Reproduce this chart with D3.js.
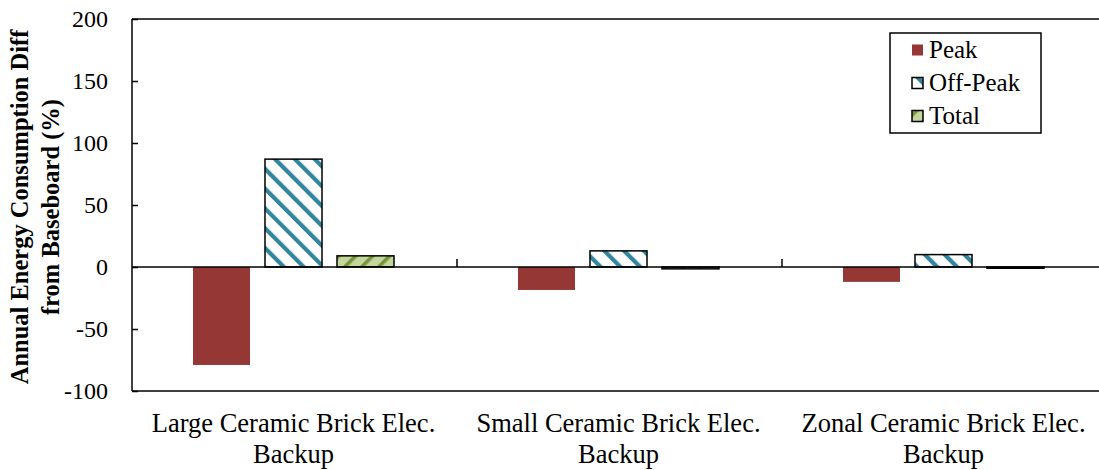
<!DOCTYPE html>
<html>
<head>
<meta charset="utf-8">
<script src="https://cdn.jsdelivr.net/npm/d3@7"></script>
<style>
  html, body { margin: 0; padding: 0; background: #fff; }
  svg { display: block; }
  text { font-family: "Liberation Serif", "Times New Roman", serif; fill: #000; }
</style>
</head>
<body>
<svg id="chart" width="1099" height="470"></svg>
<script>
// Heating system variants compared against the baseboard baseline
const categories = [
  ["Large Ceramic Brick Elec.", "Backup"],
  ["Small Ceramic Brick Elec.", "Backup"],
  ["Zonal Ceramic Brick Elec.", "Backup"]
];
const seriesNames = ["Peak", "Off-Peak", "Total"];
const peakValues = [-79, -18.5, -12];
const offPeakValues = [87, 13, 10];
const totalValues = [9, -1.5, -1];
const yTicks = [-100, -50, 0, 50, 100, 150, 200];

const series = [
  { name: seriesNames[0], values: peakValues, fill: "#953735", stroke: "none" },
  { name: seriesNames[1], values: offPeakValues, fill: "url(#hatchOff)", stroke: "#000" },
  { name: seriesNames[2], values: totalValues, fill: "url(#hatchTot)", stroke: "#000" }
];

const svg = d3.select("#chart");
const margin = { left: 132, top: 19, bottom: 79 };
const plotW = 975;
const plotH = 470 - margin.top - margin.bottom;

// Hatch fills
const defs = svg.append("defs");
const off = defs.append("pattern")
  .attr("id", "hatchOff").attr("patternUnits", "userSpaceOnUse")
  .attr("width", 14).attr("height", 14)
  .attr("patternTransform", "rotate(-45)");
off.append("rect").attr("width", 14).attr("height", 14).attr("fill", "#fff");
off.append("rect").attr("x", 0).attr("width", 4.2).attr("height", 14).attr("fill", "#31859C");

const tot = defs.append("pattern")
  .attr("id", "hatchTot").attr("patternUnits", "userSpaceOnUse")
  .attr("width", 12).attr("height", 12)
  .attr("patternTransform", "rotate(45)");
tot.append("rect").attr("width", 12).attr("height", 12).attr("fill", "#C3D69B");
tot.append("rect").attr("x", 0).attr("width", 3.5).attr("height", 12).attr("fill", "#77933C");

const g = svg.append("g").attr("transform", `translate(${margin.left},${margin.top})`);

const x0 = d3.scaleBand().domain(d3.range(categories.length)).range([0, plotW]);
const x1 = d3.scaleBand().domain(seriesNames).range([61, 262]).paddingInner(0.208);
const y = d3.scaleLinear().domain([-100, 200]).range([plotH, 0]);

// Frame: top and bottom edges
g.append("line").attr("x1", 0).attr("x2", plotW).attr("y1", 0).attr("y2", 0)
  .attr("stroke", "#000").attr("stroke-width", 1.5);
g.append("line").attr("x1", 0).attr("x2", plotW).attr("y1", plotH).attr("y2", plotH)
  .attr("stroke", "#000").attr("stroke-width", 1.5);

// Bars
series.forEach(s => {
  g.selectAll(null).data(s.values).enter().append("rect")
    .attr("x", (d, i) => x0(i) + x1(s.name))
    .attr("width", x1.bandwidth())
    .attr("y", d => y(Math.max(0, d)))
    .attr("height", d => Math.abs(y(d) - y(0)))
    .attr("fill", s.fill)
    .attr("stroke", s.stroke)
    .attr("stroke-width", 1.5);
});

// Zero line with category separators
g.append("line").attr("x1", 0).attr("x2", plotW).attr("y1", y(0)).attr("y2", y(0))
  .attr("stroke", "#000").attr("stroke-width", 1.5);
g.selectAll(null).data(d3.range(1, categories.length)).enter().append("line")
  .attr("x1", i => x0(i)).attr("x2", i => x0(i))
  .attr("y1", y(0) - 8).attr("y2", y(0))
  .attr("stroke", "#000").attr("stroke-width", 1.5);

// Y axis with inside ticks
const yAxis = g.append("g").call(
  d3.axisLeft(y).tickValues(yTicks).tickSize(-6).tickPadding(24).tickFormat(d => String(d))
);
yAxis.select(".domain").attr("stroke-width", 1.5).attr("d", `M0,0V${plotH}`);
yAxis.selectAll(".tick line").attr("stroke-width", 1.5);
yAxis.selectAll(".tick text").style("font-size", "24px").attr("fill", "#000");

// Category labels
const cx = i => x0(i) + x0.bandwidth() / 2 - 1;
const catLabels = g.selectAll(null).data(categories).enter().append("text")
  .attr("y", plotH + 41)
  .attr("text-anchor", "middle")
  .style("font-size", "26.5px");
catLabels.append("tspan").attr("x", (d, i) => cx(i)).text(d => d[0]);
catLabels.append("tspan").attr("x", (d, i) => cx(i)).attr("dy", 31).text(d => d[1]);

// Y axis title
const yTitle = svg.append("text")
  .attr("transform", `translate(28,${margin.top + plotH / 2 + 2}) rotate(-90)`)
  .attr("text-anchor", "middle")
  .style("font-size", "24.5px").style("font-weight", "bold");
yTitle.append("tspan").attr("x", 0).attr("y", 0).text("Annual Energy Consumption Diff");
yTitle.append("tspan").attr("x", 0).attr("y", 31).text("from Baseboard (%)");

// Legend
const lg = svg.append("g").attr("transform", "translate(890,33)");
lg.append("rect").attr("width", 151).attr("height", 100)
  .attr("fill", "#fff").attr("stroke", "#000").attr("stroke-width", 1.5);
series.forEach((s, i) => {
  const cy = 17 + i * 33;
  lg.append("rect").attr("x", 22).attr("y", cy - 5.5).attr("width", 11).attr("height", 11)
    .attr("fill", s.fill).attr("stroke", s.stroke).attr("stroke-width", 1.5);
  lg.append("text").attr("x", 39).attr("y", cy + 8).style("font-size", "25px").text(s.name);
});
</script>
</body>
</html>
